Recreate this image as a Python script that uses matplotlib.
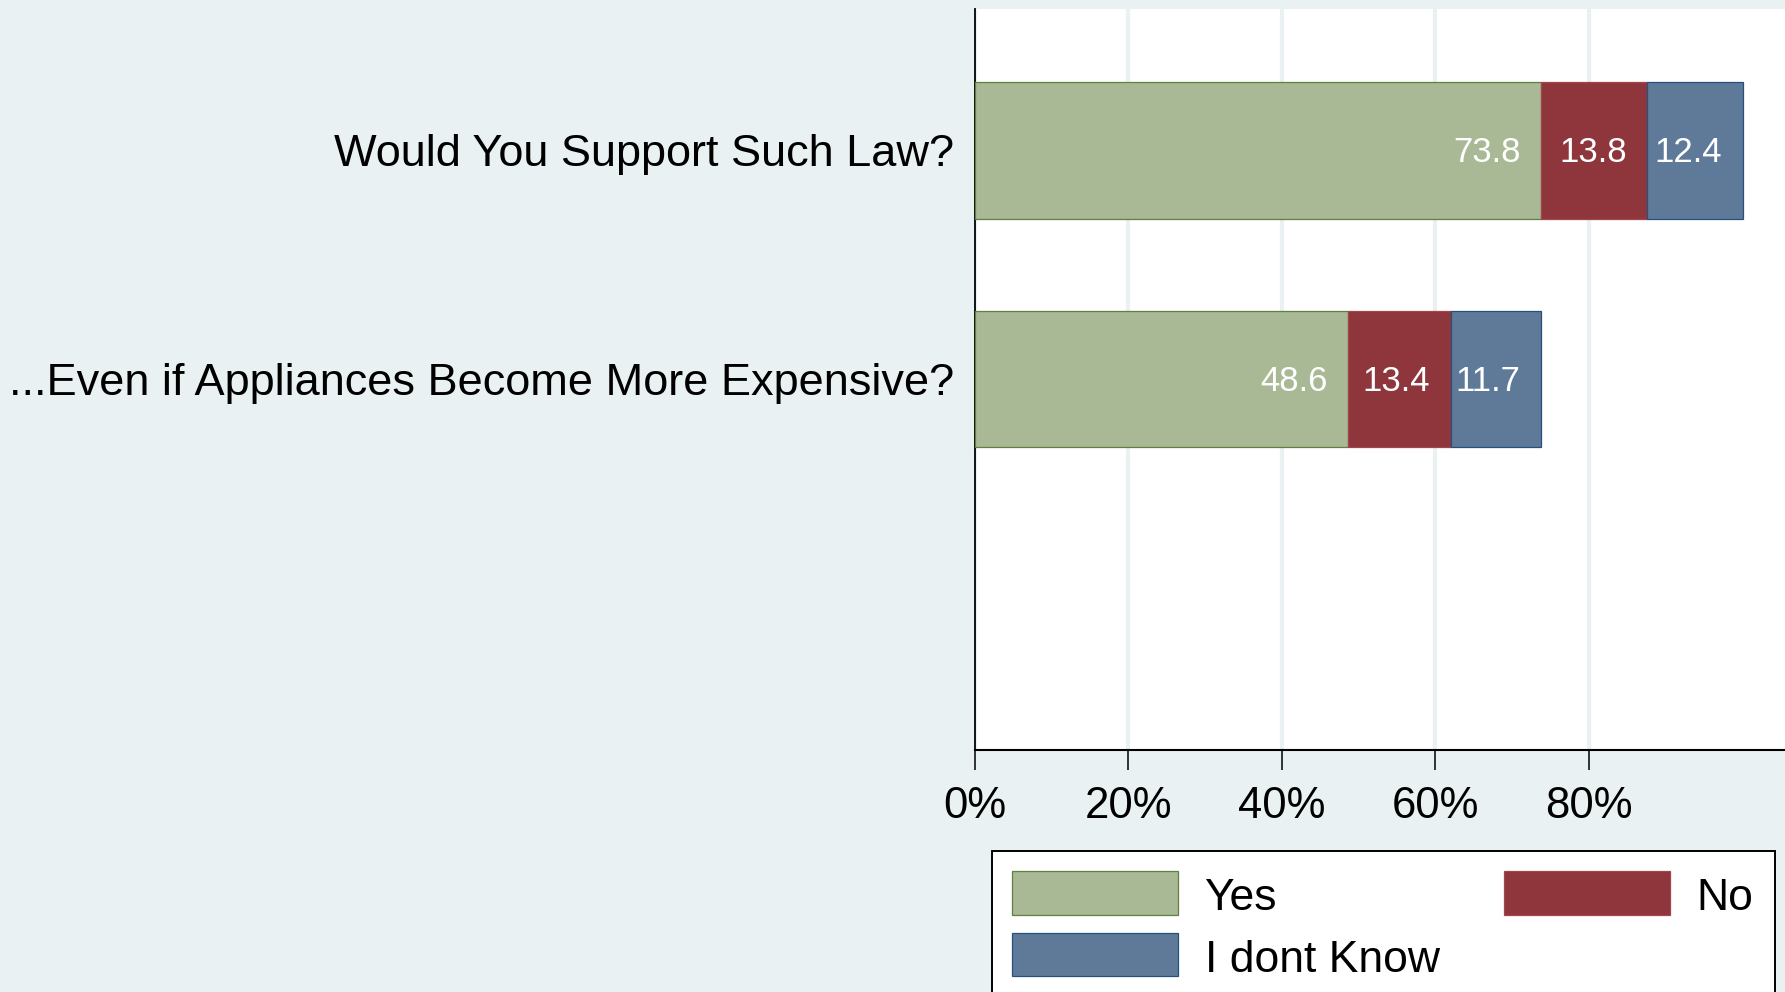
import numpy as np
import matplotlib
matplotlib.use("Agg")
import matplotlib.pyplot as plt
from matplotlib.patches import Rectangle

plt.rcParams['font.family'] = ['Liberation Sans', 'DejaVu Sans']

# data
categories = ["Would You Support Such Law?",
              "...Even if Appliances Become More Expensive?"]
yes = [73.8, 48.6]
no = [13.8, 13.4]
dont_know = [12.4, 11.7]

series_names = ["Yes", "No", "I dont Know"]
series_vals = [yes, no, dont_know]
fill_colors = ["#aab995", "#8f353c", "#5f7a99"]
edge_colors = ["#5f8040", "#a4454c", "#28507c"]

x_ticks = [0, 20, 40, 60, 80]
x_ticklabels = ["0%", "20%", "40%", "60%", "80%"]

bg = "#e9f1f3"
W, H = 1785, 992

fig = plt.figure(figsize=(W / 100, H / 100), dpi=100, facecolor=bg)
ax = fig.add_axes([974.5 / W, 1 - 750 / H, 1 - 974.5 / W, (750 - 9) / H])
ax.set_facecolor("white")

ypos = np.arange(len(categories))
left = np.zeros(len(categories))
for name, vals, fc, ec in zip(series_names, series_vals, fill_colors, edge_colors):
    vals = np.array(vals)
    ax.barh(ypos, vals, left=left, height=0.597, color=fc, edgecolor=ec,
            linewidth=0.9, label=name, zorder=3)
    # value labels, right aligned inside each segment
    for yi, l, v in zip(ypos, left, vals):
        ax.annotate(f"{v:.1f}", xy=(l + v, yi), xytext=(-14.8, -1.5),
                    textcoords="offset points", ha="right", va="center",
                    color="white", fontsize=25, zorder=4)
    left = left + vals

ax.set_xlim(0, 105.5)
ax.set_ylim(2.622, -0.618)

ax.set_xticks(x_ticks)
ax.set_xticklabels(x_ticklabels, fontsize=31.5)
ax.set_yticks(ypos)
ax.set_yticklabels(categories, fontsize=32.5)
ax.tick_params(axis="y", length=0, pad=14.5)
ax.tick_params(axis="x", length=14.4, width=1.1, pad=11.5, direction="out")

ax.grid(axis="x", color=bg, linewidth=3.0, zorder=0)
ax.set_axisbelow(True)
for s in ["top", "right"]:
    ax.spines[s].set_visible(False)
ax.spines["left"].set_linewidth(1.3)
ax.spines["bottom"].set_linewidth(1.5)

# legend box drawn by hand (partly cut off at the bottom)
def fx(px):
    return px / W

def fy(py):
    return 1 - py / H

fig.add_artist(Rectangle((fx(991.5), fy(1000)), fx(1775) - fx(991.5), fy(850.5) - fy(1000),
                         transform=fig.transFigure, facecolor="white",
                         edgecolor="black", linewidth=1.4, zorder=5))
legend_slots = [(1012, 871, 1204.5), (1504, 871, 1696), (1012, 932.5, 1204.5)]
for (sx, sy, tx), name, fc, ec in zip(legend_slots, series_names, fill_colors, edge_colors):
    fig.add_artist(Rectangle((fx(sx), fy(sy + 43.5)), fx(166), 43.5 / H,
                             transform=fig.transFigure, facecolor=fc,
                             edgecolor=ec, linewidth=0.9, zorder=6))
    fig.text(fx(tx), fy(sy + 28), name, fontsize=32, ha="left", va="center", zorder=7)

fig.savefig("out.png", dpi=100, facecolor=bg)
